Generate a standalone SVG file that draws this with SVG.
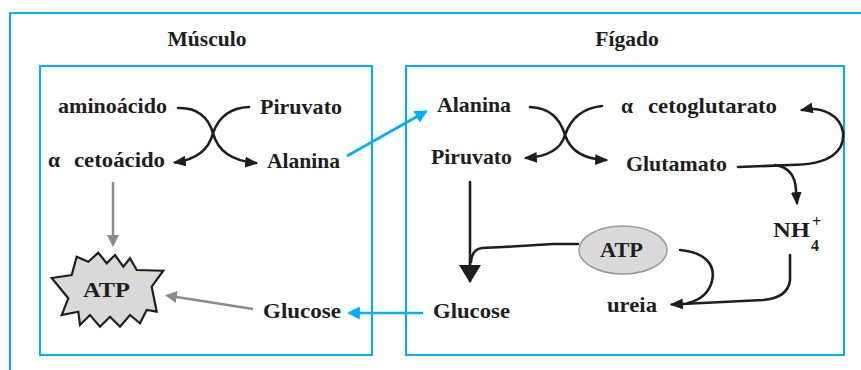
<svg xmlns="http://www.w3.org/2000/svg" width="861" height="370" viewBox="0 0 861 370">
<style>
text{font-family:"Liberation Serif","Times New Roman",serif;font-weight:bold;font-size:21.5px;fill:#1e1e1e}
.frame{fill:none;stroke:#00aeef;stroke-width:2}
.blk{fill:none;stroke:#1e1e1e;stroke-width:2.6;stroke-linecap:round;stroke-linejoin:round}
.gry{fill:none;stroke:#8a8a8a;stroke-width:2.4}
.blu{fill:none;stroke:#00aeef;stroke-width:2.6}
</style>
<defs>
<marker id="ab" viewBox="0 0 12 10" refX="10" refY="5" markerWidth="13" markerHeight="11" markerUnits="userSpaceOnUse" orient="auto"><path d="M0,0 L12,5 L0,10 z" fill="#1e1e1e"/></marker>
<marker id="abig" viewBox="0 0 18 22" refX="16" refY="11" markerWidth="18" markerHeight="22" markerUnits="userSpaceOnUse" orient="auto"><path d="M0,0 L18,11 L0,22 z" fill="#1e1e1e"/></marker>
<marker id="ag" viewBox="0 0 12 12" refX="10" refY="6" markerWidth="12" markerHeight="12" markerUnits="userSpaceOnUse" orient="auto"><path d="M0,0 L12,6 L0,12 z" fill="#8a8a8a"/></marker>
<marker id="au" viewBox="0 0 12 12" refX="10" refY="6" markerWidth="13" markerHeight="13" markerUnits="userSpaceOnUse" orient="auto"><path d="M0,0 L12,6 L0,12 z" fill="#00aeef"/></marker>
</defs>
<g id="frame">
<path class="frame" d="M10,370 L10,13 L861,13"/>
</g>
<g id="musculo">
<rect class="frame" x="40" y="66" width="332" height="289"/>
<text x="207" y="46" text-anchor="middle">Músculo</text>
</g>
<g id="figado">
<rect class="frame" x="406" y="66" width="438" height="289"/>
<text x="627" y="46" text-anchor="middle">Fígado</text>
</g>
<g id="m-aminoacido"><text x="58" y="113" textLength="109" lengthAdjust="spacingAndGlyphs">aminoácido</text></g>
<g id="m-piruvato"><text x="260" y="114" textLength="82" lengthAdjust="spacingAndGlyphs">Piruvato</text></g>
<g id="m-cetoacido"><text y="167"><tspan x="48">α</tspan><tspan x="74" textLength="91" lengthAdjust="spacingAndGlyphs">cetoácido</tspan></text></g>
<g id="m-alanina"><text x="267" y="167.5" textLength="73" lengthAdjust="spacingAndGlyphs">Alanina</text></g>
<g id="m-atp">
<path d="M51.7,278 L71.7,275 L76.7,256.7 L88.3,261.7 L98.3,252.7 L106.7,263.3 L115,255 L123.3,266.7 L130,258.3 L136.7,270 L163.3,270.7 L151.7,286.7 L156.7,311.7 L146.7,310 L140,323.3 L130,315 L120,326.7 L110,316.7 L100,326.7 L90,315 L80,325 L78.3,311.7 L61.7,315 L68.3,298.3 z" fill="#d9d9d9" stroke="#1e1e1e" stroke-width="2.2" stroke-linejoin="miter"/>
<text x="83" y="297" textLength="47" lengthAdjust="spacingAndGlyphs">ATP</text>
</g>
<g id="m-glucose"><text x="263" y="318" textLength="78" lengthAdjust="spacingAndGlyphs">Glucose</text></g>
<g id="f-alanina"><text x="437" y="112" textLength="74" lengthAdjust="spacingAndGlyphs">Alanina</text></g>
<g id="f-cetoglutarato"><text y="112.5"><tspan x="621">α</tspan><tspan x="648" textLength="129" lengthAdjust="spacingAndGlyphs">cetoglutarato</tspan></text></g>
<g id="f-piruvato"><text x="431" y="164" textLength="81" lengthAdjust="spacingAndGlyphs">Piruvato</text></g>
<g id="f-glutamato"><text x="626" y="170.5" textLength="101" lengthAdjust="spacingAndGlyphs">Glutamato</text></g>
<g id="f-nh4"><text x="773" y="237" textLength="37" lengthAdjust="spacingAndGlyphs">NH</text><text x="812" y="227" style="font-size:16px">+</text><text x="811" y="251" style="font-size:16px">4</text></g>
<g id="f-atp">
<ellipse cx="623" cy="250" rx="44" ry="24" fill="#d9d9d9" stroke="#9a9a9a" stroke-width="1.5"/>
<text x="600" y="257" textLength="43" lengthAdjust="spacingAndGlyphs">ATP</text>
</g>
<g id="f-ureia"><text x="607" y="311.5" textLength="50" lengthAdjust="spacingAndGlyphs">ureia</text></g>
<g id="f-glucose"><text x="433" y="318" textLength="77" lengthAdjust="spacingAndGlyphs">Glucose</text></g>
<g id="connectors">
<path class="blk" d="M178,108 Q205,107 213,133 Q207,158 175,162.5" marker-end="url(#ab)"/>
<path class="blk" d="M249,107 Q222,108 213,133 Q220,160 256,163" marker-end="url(#ab)"/>
<path class="gry" d="M113,182 L113,245" marker-end="url(#ag)"/>
<path class="gry" d="M253,309 L167,295.5" marker-end="url(#ag)"/>
<path class="blu" d="M347,156 L426,111.5" marker-end="url(#au)"/>
<path class="blu" d="M423,313 L349,313" marker-end="url(#au)"/>
<path class="blk" d="M530,107 Q557,108 565,135 Q559,156 526,158" marker-end="url(#ab)"/>
<path class="blk" d="M602,106 Q574,109 565,135 Q573,159 606,160" marker-end="url(#ab)"/>
<path class="blk" d="M738,167 L790,165 C832,165 845,150 843,132 C840,115 822,106 802,110" marker-end="url(#ab)"/>
<path class="blk" d="M775,165 Q795,168 796,190 L797,203" marker-end="url(#ab)"/>
<path class="blk" d="M790,255 L790,280 Q788,298 763,300 L672,304.5" marker-end="url(#ab)"/>
<path class="blk" d="M680,250 C705,252 716,265 712,281 C709,293 700,300 688,303"/>
<path class="blk" d="M470,182 L470,281" marker-end="url(#abig)"/>
<path class="blk" d="M578,244 L553,244 L503,247 L482,248 Q472,249 471,262"/>
</g>
</svg>
